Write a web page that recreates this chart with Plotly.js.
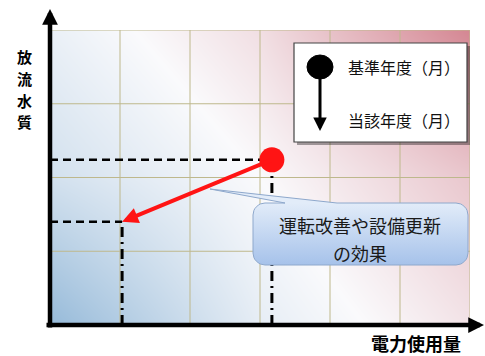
<!DOCTYPE html>
<html><head><meta charset="utf-8">
<script src="https://cdn.plot.ly/plotly-3.0.1.min.js"></script>
<style>html,body{margin:0;padding:0;background:#fff}</style>
</head><body><div id="chart" style="width:485px;height:356px"></div>
<script>
// ---- data ----
const xTitle = '電力使用量';
const yTitle = '放流水質';
const legendLabels = ['基準年度（月）', '当該年度（月）'];
const calloutLines = ['運転改善や設備更新', 'の効果'];
const baseX = [3.17], baseY = [2.24];   // 基準年度（月）
const curX = [1.03], curY = [1.40];     // 当該年度（月）
const gridX = [0, 1, 2, 3, 4, 5, 6];
const gridY = [0, 1, 2, 3, 4];
const bgX = [0, 3, 6], bgY = [0, 2, 4];
const bgZ = [[0, 0.40, 0.60], [0.30, 0.50, 0.72], [0.42, 0.62, 1.0]];

// ---- layout helpers ----
const W = 485, H = 356, L = 50, R = 15, T = 30, B = 31;
const xr = [0, 6], yr = [0, 4];
const pw = W - L - R, ph = H - T - B;
const dx = p => (p - L) / pw * (xr[1] - xr[0]);
const dy = p => (H - B - p) / ph * (yr[1] - yr[0]);
const px = p => (p - L) / pw;
const py = p => (H - B - p) / ph;
const FONT = '"Noto Sans CJK JP", "Noto Sans", sans-serif';

// grid segments
const gx = [], gy = [];
gridX.forEach(v => { gx.push(v, v, null); gy.push(yr[0], yr[1], null); });
gridY.forEach(v => { gx.push(xr[0], xr[1], null); gy.push(v, v, null); });

// callout outline (pixel space -> data)
function calloutPts(x0, y0, x1, y1, r, tip, b0, b1) {
  const pts = [tip, [b0, y0], [x0 + r, y0]];
  const arc = (cx, cy, a0, a1) => { for (let i = 1; i <= 8; i++) { const a = a0 + (a1 - a0) * i / 8; pts.push([cx + r * Math.cos(a), cy + r * Math.sin(a)]); } };
  arc(x0 + r, y0 + r, -Math.PI / 2, -Math.PI);
  pts.push([x0, y1 - r]);
  arc(x0 + r, y1 - r, Math.PI, Math.PI / 2);
  pts.push([x1 - r, y1]);
  arc(x1 - r, y1 - r, Math.PI / 2, 0);
  pts.push([x1, y0 + r]);
  arc(x1 - r, y0 + r, 0, -Math.PI / 2);
  pts.push([b1, y0], tip);
  return pts;
}
const cp = calloutPts(253, 203, 468, 265, 12, [210, 189], 285, 337);

const traces = [
  { type: 'heatmap', x: bgX, y: bgY, z: bgZ, zsmooth: 'best', zmin: 0, zmax: 1,
    colorscale: [[0, 'rgb(150,186,217)'], [0.5, 'rgb(250,250,252)'], [1, 'rgb(212,134,146)']],
    showscale: false, hoverinfo: 'skip' },
  { type: 'scatter', mode: 'lines', x: gx, y: gy, line: { color: 'rgb(190,184,140)', width: 1 }, hoverinfo: 'skip', showlegend: false },
  { type: 'scatter', mode: 'lines', x: [xr[0], baseX[0], null, xr[0], curX[0]], y: [baseY[0], baseY[0], null, curY[0], curY[0]],
    line: { color: '#000', width: 2.5, dash: '8px,5px' }, hoverinfo: 'skip', showlegend: false },
  { type: 'scatter', mode: 'lines', x: [baseX[0], baseX[0], null, curX[0], curX[0]], y: [yr[0], baseY[0], null, yr[0], curY[0]],
    line: { color: '#000', width: 3, dash: '10px,5px,2px,5px' }, hoverinfo: 'skip', showlegend: false },
  { type: 'scatter', mode: 'lines', x: cp.map(p => dx(p[0])), y: cp.map(p => dy(p[1])), fill: 'toself',
    fillgradient: { type: 'vertical', start: dy(265), stop: dy(203), colorscale: [[0, '#a6c2ea'], [1, '#e2ecf9']] },
    line: { color: '#8ea8cc', width: 1 }, hoverinfo: 'skip', showlegend: false, cliponaxis: false },
  { type: 'scatter', mode: 'markers', x: baseX, y: baseY, marker: { size: 25, color: '#ff1414' }, cliponaxis: false, hoverinfo: 'skip', showlegend: false }
];

const ann = [
  { xref: 'paper', yref: 'paper', x: 0, y: py(9), ax: 0, ay: 320, showarrow: true, arrowhead: 2, arrowsize: 0.7, arrowwidth: 4.5, arrowcolor: '#000', text: '' },
  { xref: 'paper', yref: 'paper', x: px(487), y: 0, ax: -442, ay: 0, showarrow: true, arrowhead: 2, arrowsize: 0.7, arrowwidth: 4.5, arrowcolor: '#000', text: '' },
  { x: curX[0], y: curY[0], ax: baseX[0], ay: baseY[0], axref: 'x', ayref: 'y', showarrow: true, arrowhead: 2, arrowsize: 0.8, arrowwidth: 4, arrowcolor: '#ff1414', text: '', standoff: 0, startstandoff: 0 },
  { xref: 'paper', yref: 'paper', x: px(320), y: py(131), ax: 0, ay: -56, showarrow: true, arrowhead: 2, arrowsize: 0.9, arrowwidth: 3, arrowcolor: '#000', text: '' },
  { xref: 'paper', yref: 'paper', x: px(346), y: py(67), xanchor: 'left', yanchor: 'middle', showarrow: false, text: legendLabels[0], font: { family: FONT, size: 16, color: '#111' } },
  { xref: 'paper', yref: 'paper', x: px(346), y: py(120), xanchor: 'left', yanchor: 'middle', showarrow: false, text: legendLabels[1], font: { family: FONT, size: 16, color: '#111' } },
  { xref: 'paper', yref: 'paper', x: px(360), y: py(225), xanchor: 'center', yanchor: 'middle', showarrow: false, text: calloutLines[0], font: { family: FONT, size: 18, color: '#1a1a1a' } },
  { xref: 'paper', yref: 'paper', x: px(360), y: py(253), xanchor: 'center', yanchor: 'middle', showarrow: false, text: calloutLines[1], font: { family: FONT, size: 18, color: '#1a1a1a' } },
  { xref: 'paper', yref: 'paper', x: px(416), y: py(343), xanchor: 'center', yanchor: 'middle', showarrow: false, text: '<b>' + xTitle + '</b>', font: { family: FONT, size: 18, color: '#000' } }
];
const ycent = [56, 78, 100, 122];
Array.from(yTitle).forEach((ch, i) => {
  ann.push({ xref: 'paper', yref: 'paper', x: px(24), y: py(ycent[i]), xanchor: 'center', yanchor: 'middle', showarrow: false, borderpad: 0,
    text: '<b>' + ch + '</b>', font: { family: FONT, size: 15, color: '#000' } });
});

const shapes = [
  { type: 'rect', xref: 'paper', yref: 'paper', x0: px(297), x1: px(470), y0: py(145), y1: py(46), fillcolor: 'rgba(0,0,0,0.35)', line: { width: 0 } },
  { type: 'rect', xref: 'paper', yref: 'paper', x0: px(294), x1: px(467), y0: py(142), y1: py(43), fillcolor: '#fff', line: { color: '#444', width: 1.2 } },
  { type: 'circle', xref: 'paper', yref: 'paper', x0: px(307), x1: px(333), y0: py(79), y1: py(55), fillcolor: '#000', line: { color: '#000', width: 1 } }
];

const layout = {
  width: W, height: H, margin: { l: L, r: R, t: T, b: B },
  paper_bgcolor: '#fff', plot_bgcolor: '#fff', showlegend: false,
  xaxis: { range: xr, showgrid: false, zeroline: false, showticklabels: false, showline: false, ticks: '', fixedrange: true },
  yaxis: { range: yr, showgrid: false, zeroline: false, showticklabels: false, showline: false, ticks: '', fixedrange: true },
  annotations: ann, shapes: shapes
};
Plotly.newPlot('chart', traces, layout, { staticPlot: true, displayModeBar: false });
</script></body></html>
